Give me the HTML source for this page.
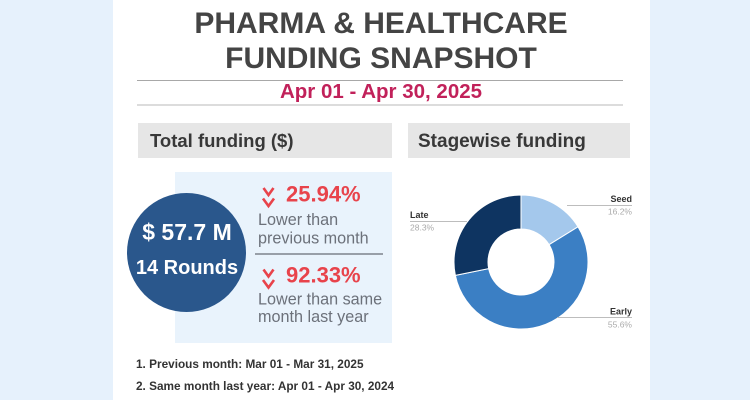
<!DOCTYPE html>
<html>
<head>
<meta charset="utf-8">
<style>
  html, body { margin:0; padding:0; }
  body { width:750px; height:400px; background:#e6f1fc; overflow:hidden; font-family:"Liberation Sans", Arial, sans-serif; }
  svg { display:block; }
</style>
</head>
<body>
<svg width="750" height="400" viewBox="0 0 750 400" xmlns="http://www.w3.org/2000/svg" font-family="Liberation Sans, Arial, sans-serif">
  <rect x="0" y="0" width="750" height="400" fill="#e6f1fc"/>
  <rect x="113" y="0" width="537" height="400" fill="#ffffff"/>

  <!-- Title -->
  <text x="381" y="33" text-anchor="middle" font-size="30" font-weight="bold" fill="#444444">PHARMA &amp; HEALTHCARE</text>
  <text x="381" y="68" text-anchor="middle" font-size="30" font-weight="bold" fill="#444444">FUNDING SNAPSHOT</text>

  <line x1="137" y1="80.5" x2="623" y2="80.5" stroke="#a8a8a8" stroke-width="1"/>
  <text x="381" y="98" text-anchor="middle" font-size="20.5" font-weight="bold" fill="#c1215a">Apr 01 - Apr 30, 2025</text>
  <line x1="137" y1="105" x2="623" y2="105" stroke="#b8b8b8" stroke-width="1"/>

  <!-- Section headers -->
  <rect x="138" y="123" width="254" height="35" fill="#e6e6e6"/>
  <text x="150" y="147" font-size="18.5" font-weight="bold" fill="#383838">Total funding ($)</text>
  <rect x="408" y="123" width="222" height="35" fill="#e6e6e6"/>
  <text x="418" y="147" font-size="19" font-weight="bold" fill="#383838">Stagewise funding</text>

  <!-- Left panel -->
  <rect x="175" y="172" width="217" height="171" fill="#e9f3fc"/>
  <circle cx="186.5" cy="252.5" r="59.5" fill="#2a578c"/>
  <text x="187" y="240" text-anchor="middle" font-size="23" font-weight="bold" fill="#ffffff">$ 57.7 M</text>
  <text x="187" y="274" text-anchor="middle" font-size="20" font-weight="bold" fill="#ffffff">14 Rounds</text>

  <!-- chevrons 1 -->
  <polyline points="263.5,188 268.5,195 273.5,188" fill="none" stroke="#e8434b" stroke-width="2.6"/>
  <polyline points="263,198.5 268.5,206 274,198.5" fill="none" stroke="#e8434b" stroke-width="2.6"/>
  <text x="286" y="201.5" font-size="22" font-weight="bold" fill="#e8434b">25.94%</text>
  <text x="258" y="225" font-size="16.2" fill="#6c717a">Lower than</text>
  <text x="258" y="243.5" font-size="16.2" fill="#6c717a">previous month</text>

  <line x1="255" y1="254" x2="383" y2="254" stroke="#7d838b" stroke-width="1.5"/>

  <!-- chevrons 2 -->
  <polyline points="263.5,269.5 268.5,276.5 273.5,269.5" fill="none" stroke="#e8434b" stroke-width="2.6"/>
  <polyline points="263,280 268.5,287.5 274,280" fill="none" stroke="#e8434b" stroke-width="2.6"/>
  <text x="286" y="282.5" font-size="22" font-weight="bold" fill="#e8434b">92.33%</text>
  <text x="258" y="304.5" font-size="16.2" fill="#6c717a">Lower than same</text>
  <text x="258" y="322" font-size="16.2" fill="#6c717a">month last year</text>

  <!-- Donut -->
  <path d="M521,195 A67,67 0 0 1 578.02,226.81 L549.08,244.67 A33,33 0 0 0 521,229 Z" fill="#a4c8ec" stroke="#ffffff" stroke-width="1"/>
  <path d="M578.02,226.81 A67,67 0 1 1 455.35,275.38 L488.66,268.59 A33,33 0 1 0 549.08,244.67 Z" fill="#3b7fc4" stroke="#ffffff" stroke-width="1"/>
  <path d="M455.35,275.38 A67,67 0 0 1 521,195 L521,229 A33,33 0 0 0 488.66,268.59 Z" fill="#0e3461" stroke="#ffffff" stroke-width="1"/>

  <!-- Donut labels -->
  <line x1="567" y1="205.5" x2="632" y2="205.5" stroke="#bdbdbd" stroke-width="1"/>
  <text x="632" y="202" text-anchor="end" font-size="9" font-weight="bold" fill="#333333">Seed</text>
  <text x="632" y="214.5" text-anchor="end" font-size="8.5" fill="#aaaaaa">16.2%</text>

  <line x1="410" y1="221.5" x2="467" y2="221.5" stroke="#bdbdbd" stroke-width="1"/>
  <text x="410" y="218" font-size="9" font-weight="bold" fill="#333333">Late</text>
  <text x="410" y="230.5" font-size="8.5" fill="#aaaaaa">28.3%</text>

  <line x1="557" y1="317.5" x2="632" y2="317.5" stroke="#bdbdbd" stroke-width="1"/>
  <text x="632" y="314.5" text-anchor="end" font-size="9" font-weight="bold" fill="#333333">Early</text>
  <text x="632" y="327.5" text-anchor="end" font-size="8.5" fill="#aaaaaa">55.6%</text>

  <!-- Footnotes -->
  <text x="136" y="368" font-size="11.8" font-weight="bold" fill="#333333">1. Previous month: Mar 01 - Mar 31, 2025</text>
  <text x="136" y="390" font-size="11.8" font-weight="bold" fill="#333333">2. Same month last year: Apr 01 - Apr 30, 2024</text>
</svg>
</body>
</html>
